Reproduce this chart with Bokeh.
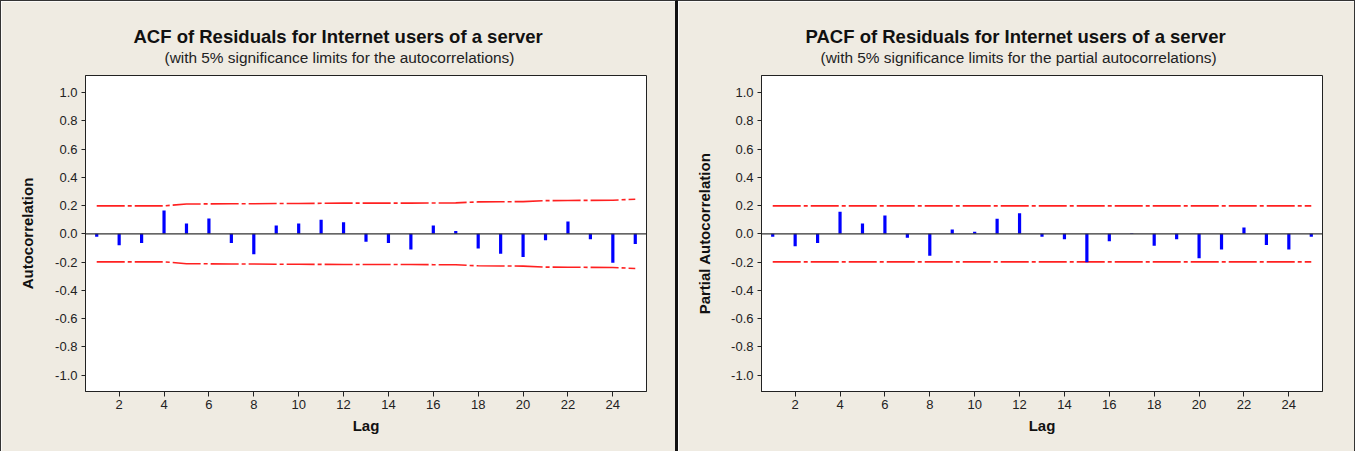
from bokeh.plotting import figure
from bokeh.models import Span, Title, FixedTicker, Range1d, ColumnDataSource
from bokeh.layouts import row
from bokeh.embed import file_html
from bokeh.resources import INLINE

lags = list(range(1, 26))
acf = [-0.02, -0.08, -0.064, 0.165, 0.073, 0.108, -0.064, -0.144, 0.059, 0.073,
       0.099, 0.082, -0.055, -0.064, -0.111, 0.059, 0.02, -0.104, -0.14, -0.163,
       -0.045, 0.087, -0.038, -0.205, -0.071]
acf_limit = [0.198, 0.198, 0.198, 0.198, 0.211, 0.212, 0.213, 0.213, 0.215, 0.215,
             0.216, 0.217, 0.217, 0.217, 0.217, 0.218, 0.219, 0.226, 0.227, 0.228,
             0.235, 0.236, 0.237, 0.238, 0.245]
pacf = [-0.02, -0.088, -0.064, 0.156, 0.073, 0.13, -0.028, -0.154, 0.03, 0.014,
        0.106, 0.146, -0.02, -0.038, -0.2, -0.052, 0.005, -0.085, -0.038, -0.173,
        -0.111, 0.045, -0.078, -0.111, -0.02]
pacf_limit = [0.198, 0.198, 0.198, 0.198, 0.198, 0.198, 0.198, 0.198, 0.198, 0.198,
              0.198, 0.198, 0.198, 0.198, 0.198, 0.198, 0.198, 0.198, 0.198, 0.198,
              0.198, 0.198, 0.198, 0.198, 0.198]
x_ticks = [2, 4, 6, 8, 10, 12, 14, 16, 18, 20, 22, 24]
y_ticks = [-1.0, -0.8, -0.6, -0.4, -0.2, 0.0, 0.2, 0.4, 0.6, 0.8, 1.0]
y_tick_labels = ["-1.0", "-0.8", "-0.6", "-0.4", "-0.2", "0.0", "0.2", "0.4", "0.6", "0.8", "1.0"]

BEIGE = "#EFEBE2"
FONT = "Liberation Sans"


def make_panel(vals, limits, title, subtitle, ylabel, width, border_left,
               title_offset, sub_offset, ylabel_standoff, styles):
    p = figure(width=width, height=451, output_backend="svg", toolbar_location=None,
               x_range=Range1d(0.5, 25.5), y_range=Range1d(-1.115, 1.12),
               min_border_left=border_left, min_border_right=width - border_left - 561,
               min_border_top=74, min_border_bottom=61)
    p.styles = styles
    p.border_fill_color = BEIGE
    p.background_fill_color = "white"
    p.outline_line_color = "#222222"
    p.outline_line_width = 1
    p.grid.visible = False

    src = ColumnDataSource(dict(lag=lags, val=vals, up=limits,
                                lo=[-v for v in limits], zero=[0] * len(lags)))
    p.line("lag", "up", source=src, line_color="#FF2020", line_width=1.6, line_dash="28 3 4 3")
    p.line("lag", "lo", source=src, line_color="#FF2020", line_width=1.6, line_dash="28 3 4 3")
    p.add_layout(Span(location=0, dimension="width", line_color="#333333", line_width=1.3))
    p.segment(x0="lag", y0="zero", x1="lag", y1="val", source=src,
              line_color="#0000FF", line_width=3.2)

    for ax in (p.xaxis[0], p.yaxis[0]):
        ax.axis_line_color = "#222222"
        ax.major_tick_line_color = "#222222"
        ax.minor_tick_line_color = None
        ax.major_tick_in = 0
        ax.major_label_text_font = FONT
        ax.major_label_text_font_size = "13px"
        ax.major_label_text_color = "#222222"
        ax.axis_label_text_font = FONT
        ax.axis_label_text_font_size = "15px"
        ax.axis_label_text_font_style = "bold"
        ax.axis_label_text_color = "#111111"

    p.xaxis.ticker = FixedTicker(ticks=x_ticks)
    p.xaxis.major_tick_out = 5
    p.xaxis.major_label_standoff = 3
    p.xaxis.axis_label = "Lag"
    p.xaxis.axis_label_standoff = 5

    p.yaxis.ticker = FixedTicker(ticks=y_ticks)
    p.yaxis.major_label_overrides = {t: s for t, s in zip(y_ticks, y_tick_labels)}
    p.yaxis.major_tick_out = 4
    p.yaxis.major_label_standoff = 4
    p.yaxis.axis_label = ylabel
    p.yaxis.axis_label_standoff = ylabel_standoff

    # spacer between frame and subtitle
    p.add_layout(Title(text=" ", text_font=FONT, text_font_size="7px", standoff=1), "above")
    p.add_layout(Title(text=subtitle, align="left", offset=sub_offset,
                       text_font=FONT, text_font_size="15.4px", text_font_style="normal",
                       text_color="#222222", standoff=0), "above")
    p.add_layout(Title(text=title, align="left", offset=title_offset,
                       text_font=FONT, text_font_size="18.5px", text_font_style="bold",
                       text_color="#111111", standoff=0), "above")
    return p


p1 = make_panel(acf, acf_limit, "ACF of Residuals for Internet users of a server",
                "(with 5% significance limits for the autocorrelations)",
                "Autocorrelation", 677, 84, 48, 79, 16,
                {"border-left": "1px solid #333333", "border-top": "1px solid #333333",
                 "border-right": "2px solid #111111"})
p2 = make_panel(pacf, pacf_limit, "PACF of Residuals for Internet users of a server",
                "(with 5% significance limits for the partial autocorrelations)",
                "Partial Autocorrelation", 678, 83, 44, 59, 15,
                {"border-top": "1px solid #333333", "border-right": "1px solid #333333",
                 "border-left": "1px solid #111111"})

layout = row(p1, p2)
open("out.html", "w").write(file_html(layout, INLINE))
